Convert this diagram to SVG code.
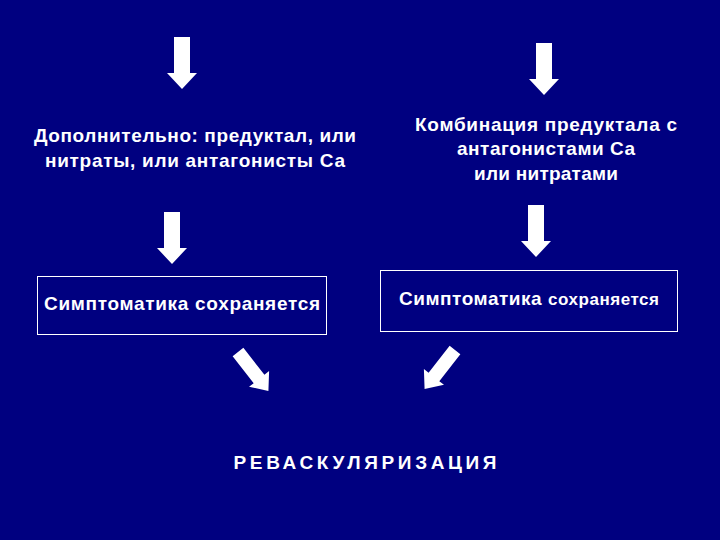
<svg xmlns="http://www.w3.org/2000/svg" width="720" height="540" viewBox="0 0 720 540">
<style>
text{font-family:"Liberation Sans",Arial,sans-serif;fill:#fff;font-size:19px;font-weight:bold;text-anchor:middle}
.arr{fill:#fff}
.box{fill:none;stroke:#fff;stroke-width:1}
</style>
<defs>
<path id="a" d="M-8,0 H8 V36 H15 L0,52 L-15,36 H-8 Z"/>
</defs>
<rect width="720" height="540" fill="#000080"/>
<g id="connectors" class="arr">
<use href="#a" x="182" y="37"/>
<use href="#a" x="544" y="43"/>
<use href="#a" x="172" y="212"/>
<use href="#a" x="536" y="205"/>
<use href="#a" transform="translate(238,352) rotate(-38) scale(0.85,0.95)"/>
<use href="#a" transform="translate(455,350) rotate(38) scale(0.85,0.95)"/>
</g>
<g id="n1"><text x="195" y="142" textLength="322">Дополнительно: предуктал, или</text><text x="195" y="167" textLength="300">нитраты, или антагонисты Са</text></g>
<g id="n2"><text x="546" y="131" textLength="262">Комбинация предуктала с</text><text x="546" y="155" textLength="178">антагонистами Са</text><text x="546" y="180" textLength="144">или нитратами</text></g>
<g id="n3"><rect class="box" x="37.5" y="276.5" width="289" height="58"/><text x="182" y="310" textLength="276">Симптоматика сохраняется</text></g>
<g id="n4"><rect class="box" x="380.5" y="270.5" width="297" height="61"/><text x="529" y="305" textLength="260">Симптоматика <tspan font-size="17">сохраняется</tspan></text></g>
<g id="n5"><text x="365" y="469" font-size="24" font-weight="normal" textLength="263">РЕВАСКУЛЯРИЗАЦИЯ</text></g>
</svg>
